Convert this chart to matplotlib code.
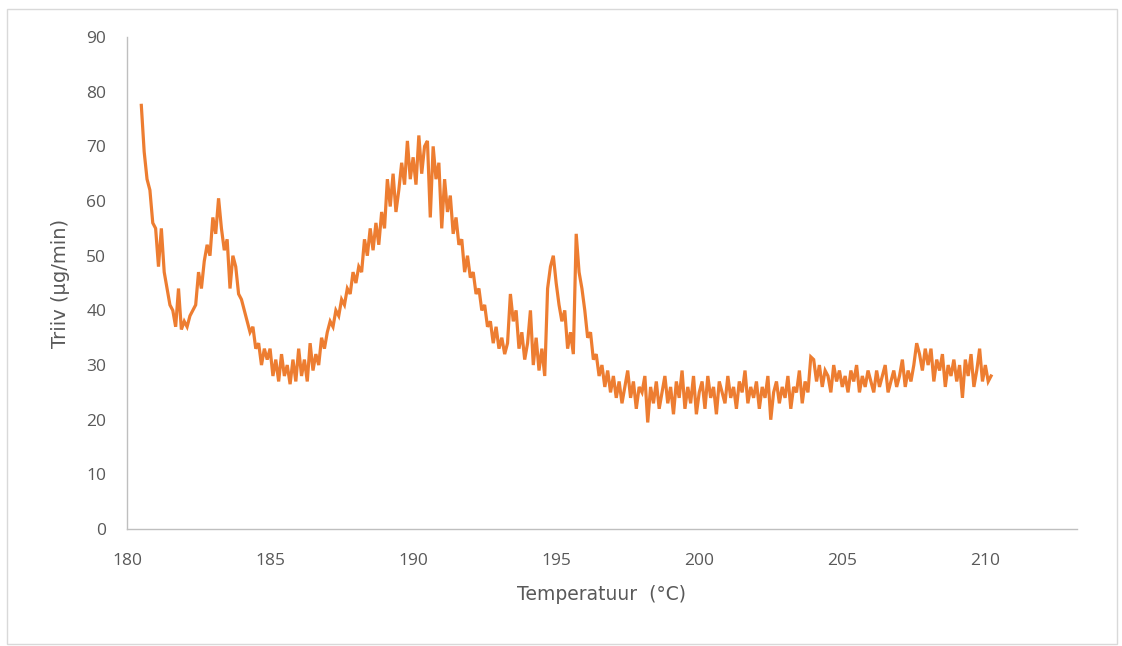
import numpy as np
import matplotlib
matplotlib.use("Agg")
import matplotlib.pyplot as plt
from matplotlib.patches import Rectangle

# Temperature grid: first sample and step (degC)
temp_start = 180.5
temp_step = 0.1

# Triiv (ug/min), one row per degree
triiv = [
    77.5, 69, 64, 62, 56,                               # 180.5 - 180.9
    55, 48, 55, 47, 44, 41, 40, 37, 44, 36.5,           # 181
    38, 37, 39, 40, 41, 47, 44, 49, 52, 50,             # 182
    57, 54, 60.5, 55, 51, 53, 44, 50, 48, 43,           # 183
    42, 40, 38, 36, 37, 33, 34, 30, 33, 31,             # 184
    33, 28, 31, 27, 32, 28, 30, 26.5, 31, 27,           # 185
    33, 28, 31, 27, 34, 29, 32, 30, 35, 33,             # 186
    36, 38, 37, 40, 39, 42, 41, 44, 43, 47,             # 187
    45, 48, 47, 53, 50, 55, 51, 56, 52, 58,             # 188
    55, 64, 59, 65, 58, 62, 67, 63, 71, 64,             # 189
    68, 63, 72, 65, 70, 71, 57, 70, 64, 67,             # 190
    55, 64, 58, 61, 54, 57, 52, 53, 47, 50,             # 191
    46, 47, 43, 44, 40, 41, 37, 38, 34, 37,             # 192
    33, 35, 32, 34, 43, 38, 40, 33, 36, 31,             # 193
    34, 40, 30, 35, 29, 33, 28, 44, 48, 50,             # 194
    45, 41, 38, 40, 33, 36, 32, 54, 47, 44,             # 195
    40, 35, 36, 31, 32, 28, 30, 26, 29, 25,             # 196
    28, 24, 27, 23, 26, 29, 24, 27, 22, 26,             # 197
    25, 28, 19.5, 26, 23, 27, 22, 25, 28, 23,           # 198
    26, 21, 27, 24, 29, 22, 26, 23, 28, 21,             # 199
    25, 27, 22, 28, 24, 26, 21, 27, 25, 23,             # 200
    28, 24, 26, 22, 27, 25, 29, 23, 26, 24,             # 201
    27, 22, 26, 24, 28, 20, 25, 27, 23, 26,             # 202
    24, 28, 22, 26, 25, 29, 23, 27, 25, 31.5,           # 203
    31, 27, 30, 26, 29, 28, 25, 30, 27, 29,             # 204
    26, 28, 25, 29, 27, 30, 25, 28, 26, 29,             # 205
    27, 25, 29, 26, 28, 30, 25, 27, 29, 26,             # 206
    28, 31, 26, 29, 27, 30, 34, 32, 29, 33,             # 207
    30, 33, 27, 31, 29, 32, 26, 30, 28, 31,             # 208
    27, 30, 24, 31, 28, 32, 26, 29, 33, 27,             # 209
    30, 27, 28,                                         # 210.0 - 210.2
]

x_ticks = [180, 185, 190, 195, 200, 205, 210]
y_ticks = [0, 10, 20, 30, 40, 50, 60, 70, 80, 90]

temps = temp_start + temp_step * np.arange(len(triiv))

plt.rcParams['font.family'] = ['Open Sans', 'DejaVu Sans']

fig = plt.figure(figsize=(11.22, 6.46), dpi=100)
ax = fig.add_axes([0.1132, 0.181, 0.8466, 0.7617])

ax.plot(temps, triiv, color='#ED7D31', linewidth=2.3, solid_joinstyle='miter')

ax.set_xlim(180, 213.2)
ax.set_ylim(0, 90)
ax.set_xticks(x_ticks)
ax.set_yticks(y_ticks)

for side in ['top', 'right']:
    ax.spines[side].set_visible(False)
for side in ['left', 'bottom']:
    ax.spines[side].set_color('#bfbfbf')
    ax.spines[side].set_linewidth(1.0)

ax.tick_params(axis='both', length=0, labelsize=12.5, labelcolor='#595959')
ax.tick_params(axis='x', pad=17)
ax.tick_params(axis='y', pad=15)

ax.set_xlabel('Temperatuur  (°C)', fontsize=13.5, color='#595959', labelpad=12,
              family=['DejaVu Sans'])
ax.set_ylabel('Triiv (µg/min)', fontsize=14, color='#595959', labelpad=12,
              family=['DejaVu Sans'])

# light chart border like the Excel chart area
fig.patches.append(Rectangle((7 / 1122, 2 / 646), 1110 / 1122, 635 / 646,
                             transform=fig.transFigure, fill=False,
                             edgecolor='#d9d9d9', linewidth=1.0))

fig.savefig('out.png', dpi=100)
